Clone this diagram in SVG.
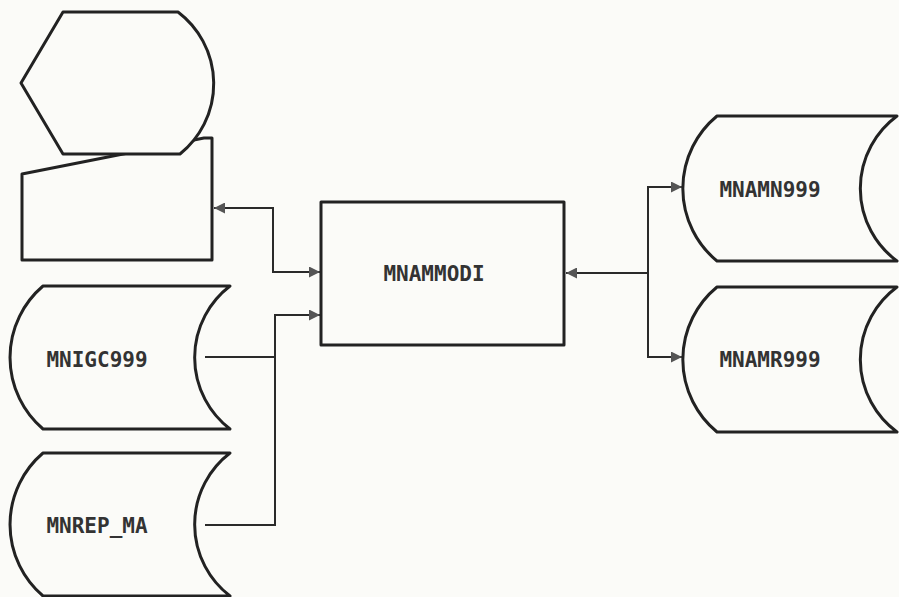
<svg xmlns="http://www.w3.org/2000/svg" width="899" height="597" viewBox="0 0 899 597">
<defs>
<marker id="arr" viewBox="0 0 10 10" refX="10" refY="5" markerWidth="11" markerHeight="11" markerUnits="userSpaceOnUse" orient="auto-start-reverse">
<path d="M0,0 L10,5 L0,10 z" fill="#555"/>
</marker>
<style>
.shape{fill:#fbfbf8;stroke:#222;stroke-width:3;stroke-linejoin:round}
.conn{fill:none;stroke:#2a2a2a;stroke-width:2}
.lbl{font-family:"DejaVu Sans Mono","Liberation Mono",monospace;font-size:21px;font-weight:bold;fill:#333}
</style>
</defs>
<rect x="0" y="0" width="899" height="597" fill="#fbfbf8"/>
<g id="manual-input">
<polygon class="shape" points="22,174 204,138 212,138 212,260 22,260"/>
</g>
<g id="display">
<path class="shape" d="M63,12 L178,12 A90,90 0 0 1 180,154 L63,154 L21,83 Z"/>
</g>
<g id="MNAMMODI">
<rect class="shape" x="321" y="202" width="243" height="143"/>
<text class="lbl" x="434" y="281" text-anchor="middle">MNAMMODI</text>
</g>
<g id="MNIGC999">
<path class="shape" d="M43,286 L230,286 A90,90 0 0 0 230,429 L43,429 A94,94 0 0 1 43,286 Z"/>
<text class="lbl" x="97" y="367" text-anchor="middle">MNIGC999</text>
</g>
<g id="MNREP_MA">
<path class="shape" d="M43,453 L230,453 A90,90 0 0 0 230,596 L43,596 A94,94 0 0 1 43,453 Z"/>
<text class="lbl" x="97" y="533" text-anchor="middle">MNREP_MA</text>
</g>
<g id="MNAMN999">
<path class="shape" d="M717,116 L897,116 A90,90 0 0 0 897,261 L717,261 A94,94 0 0 1 717,116 Z"/>
<text class="lbl" x="770" y="197" text-anchor="middle">MNAMN999</text>
</g>
<g id="MNAMR999">
<path class="shape" d="M717,287 L897,287 A90,90 0 0 0 897,432 L717,432 A94,94 0 0 1 717,287 Z"/>
<text class="lbl" x="770" y="367" text-anchor="middle">MNAMR999</text>
</g>
<g id="connectors">
<path class="conn" d="M214,208 H273 V272 H320" marker-start="url(#arr)" marker-end="url(#arr)"/>
<path class="conn" d="M205,525 H275 V315 H320" marker-end="url(#arr)"/>
<path class="conn" d="M205,357 H275"/>
<path class="conn" d="M648,273 H566" marker-end="url(#arr)"/>
<path class="conn" d="M682,187 H648 V357 H682" marker-start="url(#arr)" marker-end="url(#arr)"/>
</g>
</svg>
